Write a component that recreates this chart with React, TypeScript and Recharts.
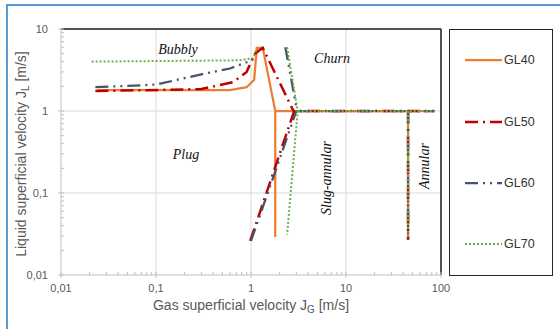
import React from "react";
import { LineChart, Line, XAxis, YAxis, ReferenceLine } from "recharts";

// ---- tick values ----
const X_MAJOR = [0.01, 0.1, 1, 10, 100];
const Y_MAJOR = [0.01, 0.1, 1, 10];
const X_LABELS = ["0,01", "0,1", "1", "10", "100"];
const Y_LABELS = ["0,01", "0,1", "1", "10"];
const MINOR_STEPS = [2, 3, 4, 5, 6, 7, 8, 9];

// ---- series values [Jg, Jl] ----
const GL40_BOUNDARY = [[0.024, 1.8], [0.6, 1.8], [0.9, 1.95], [1.08, 2.4], [1.15, 5.9], [1.33, 5.9], [1.8, 1.0], [1.8, 0.029]];
const GL40_CHURN = [[1.8, 1.0], [85, 1.0]];
const GL40_ANNULAR = [[45, 1.0], [45, 0.028]];

const GL50_BOUNDARY = [[0.023, 1.75], [0.3, 1.85], [0.65, 2.25], [0.9, 3.0], [1.1, 5.0], [1.33, 5.9], [2.8, 1.0]];
const GL50_SLUG = [[0.98, 0.026], [2.85, 1.0], [85, 1.0]];
const GL50_ANNULAR = [[45, 1.0], [45, 0.027]];

const GL60_BUBBLY = [[0.023, 1.95], [0.1, 2.1], [0.3, 2.8], [0.6, 3.3], [1.05, 4.2]];
const GL60_CHURN = [[2.3, 6.0], [3.05, 1.0], [85, 1.0]];
const GL60_SLUG = [[1.0, 0.026], [3.0, 1.0]];
const GL60_ANNULAR = [[45, 1.0], [45, 0.027]];

const GL70_BUBBLY = [[0.021, 4.0], [0.75, 4.15], [1.05, 4.4], [1.15, 5.8]];
const GL70_CHURN = [[2.4, 6.0], [3.1, 1.0], [2.4, 0.031]];
const GL70_HORIZ = [[3.1, 1.0], [85, 1.0]];
const GL70_ANNULAR = [[45, 1.0], [45, 0.028]];

const SERIES_NAMES = ["GL40", "GL50", "GL60", "GL70"];

const STYLES: Record<string, { color: string; dash?: string; width: number }> = {
  GL40: { color: "#ED7D31", width: 2.25 },
  GL50: { color: "#C00000", dash: "13 5 2 5", width: 2.5 },
  GL60: { color: "#44546A", dash: "13 5 2 5 2 5", width: 2.25 },
  GL70: { color: "#70AD47", dash: "2 2", width: 2 },
};

const SEGMENTS: Record<string, number[][][]> = {
  GL40: [GL40_BOUNDARY, GL40_CHURN, GL40_ANNULAR],
  GL50: [GL50_BOUNDARY, GL50_SLUG, GL50_ANNULAR],
  GL60: [GL60_BUBBLY, GL60_CHURN, GL60_SLUG, GL60_ANNULAR],
  GL70: [GL70_BUBBLY, GL70_CHURN, GL70_HORIZ, GL70_ANNULAR],
};

const toData = (seg: number[][]) => seg.map(([x, y]) => ({ x, y }));

const withMinors = (majors: number[]) => {
  const out: number[] = [];
  majors.forEach((m, i) => {
    out.push(m);
    if (i < majors.length - 1) MINOR_STEPS.forEach((s) => out.push(+(m * s).toPrecision(3)));
  });
  return out;
};
const X_TICKS = withMinors(X_MAJOR);
const Y_TICKS = withMinors(Y_MAJOR);

const AXIS_GRAY = "#BFBFBF";
const TEXT_GRAY = "#595959";
const SANS = "'Liberation Sans', Arial, sans-serif";
const SERIF = "'Liberation Serif', 'Times New Roman', serif";

const XTick = (props: any) => {
  const { x, y, payload } = props;
  const idx = X_MAJOR.indexOf(payload.value);
  if (idx >= 0) {
    return (
      <g>
        <line x1={x} x2={x} y1={y - 3} y2={y + 3} stroke={AXIS_GRAY} />
        <text x={x} y={y + 17} textAnchor="middle" fontSize={11} fill={TEXT_GRAY} fontFamily={SANS}>
          {X_LABELS[idx]}
        </text>
      </g>
    );
  }
  return <line x1={x} x2={x} y1={y - 3} y2={y} stroke={AXIS_GRAY} />;
};

const YTick = (props: any) => {
  const { x, y, payload } = props;
  const idx = Y_MAJOR.indexOf(payload.value);
  if (idx >= 0) {
    return (
      <g>
        <line x1={x - 3} x2={x + 3} y1={y} y2={y} stroke={AXIS_GRAY} />
        <text x={x - 13} y={y + 4} textAnchor="end" fontSize={11} fill={TEXT_GRAY} fontFamily={SANS}>
          {Y_LABELS[idx]}
        </text>
      </g>
    );
  }
  return <line x1={x} x2={x + 3} y1={y} y2={y} stroke={AXIS_GRAY} />;
};

const regionLabel = (text: string, cx: number, cy: number, rotate = false) => (
  <div
    key={text}
    style={{
      position: "absolute",
      left: cx,
      top: cy,
      transform: `translate(-50%, -50%)${rotate ? " rotate(-90deg)" : ""}`,
      fontFamily: SERIF,
      fontStyle: "italic",
      fontSize: 14,
      color: "#111",
      whiteSpace: "nowrap",
      lineHeight: "16px",
    }}
  >
    {text}
  </div>
);

export default function App() {
  return (
    <div style={{ position: "absolute", left: 0, top: 0, width: 560, height: 329, background: "#fff", overflow: "hidden" }}>
      <div
        style={{
          position: "absolute",
          left: 6,
          top: 4,
          width: 600,
          height: 400,
          borderLeft: "2px solid #5B9BD5",
          borderTop: "2px solid #5B9BD5",
        }}
      />
      <div style={{ position: "absolute", left: 0, top: 0 }}>
        <LineChart width={450} height={329} margin={{ top: 29, right: 9, bottom: 24, left: 0 }}>
          <XAxis
            type="number"
            dataKey="x"
            scale="log"
            domain={[0.01, 100]}
            ticks={X_TICKS}
            interval={0}
            allowDataOverflow
            height={30}
            tickSize={0}
            tickMargin={0}
            tickLine={false}
            axisLine={{ stroke: AXIS_GRAY }}
            tick={<XTick />}
          />
          <YAxis
            type="number"
            scale="log"
            domain={[0.01, 10]}
            ticks={Y_TICKS}
            interval={0}
            allowDataOverflow
            width={61}
            tickSize={0}
            tickMargin={0}
            tickLine={false}
            axisLine={{ stroke: AXIS_GRAY }}
            tick={<YTick />}
          />
          {[0.1, 1, 10].map((v) => (
            <ReferenceLine key={"gx" + v} x={v} stroke="#D9D9D9" strokeWidth={1} />
          ))}
          {[0.1, 1].map((v) => (
            <ReferenceLine key={"gy" + v} y={v} stroke="#D9D9D9" strokeWidth={1} />
          ))}
          <ReferenceLine y={10} stroke="#1a1a1a" strokeWidth={1.5} />
          <ReferenceLine x={100} stroke="#1a1a1a" strokeWidth={1.5} />
          {SERIES_NAMES.map((name) =>
            SEGMENTS[name].map((seg, i) => (
              <Line
                key={name + i}
                data={toData(seg)}
                dataKey="y"
                type="linear"
                stroke={STYLES[name].color}
                strokeWidth={STYLES[name].width}
                strokeDasharray={STYLES[name].dash}
                dot={false}
                activeDot={false}
                isAnimationActive={false}
              />
            ))
          )}
        </LineChart>
      </div>

      {regionLabel("Bubbly", 178, 50)}
      {regionLabel("Churn", 332, 59)}
      {regionLabel("Plug", 186, 155)}
      {regionLabel("Slug-annular", 327, 178, true)}
      {regionLabel("Annular", 425, 166, true)}

      {/* axis titles */}
      <div
        style={{
          position: "absolute",
          left: 251,
          top: 306,
          transform: "translate(-50%, -50%)",
          fontFamily: SANS,
          fontSize: 14,
          color: TEXT_GRAY,
          whiteSpace: "nowrap",
        }}
      >
        Gas superficial velocity J<span style={{ fontSize: 10, verticalAlign: "-3px" }}>G</span> [m/s]
      </div>
      <div
        style={{
          position: "absolute",
          left: 22,
          top: 154,
          transform: "translate(-50%, -50%) rotate(-90deg)",
          fontFamily: SANS,
          fontSize: 14,
          color: TEXT_GRAY,
          whiteSpace: "nowrap",
        }}
      >
        Liquid superficial velocity J<span style={{ fontSize: 10, verticalAlign: "-3px" }}>L</span> [m/s]
      </div>

      {/* legend */}
      <div
        style={{
          position: "absolute",
          left: 449,
          top: 29,
          width: 102,
          height: 245,
          border: "1.5px solid #262626",
          background: "#fff",
        }}
      />
      {SERIES_NAMES.map((name, i) => {
        const cy = [60, 122, 183, 244][i];
        const st = STYLES[name];
        return (
          <div key={"lg" + name} style={{ position: "absolute", left: 464, top: cy - 8, height: 16, display: "flex", alignItems: "center" }}>
            <svg width={39} height={16}>
              <line x1={1} x2={38} y1={8} y2={8} stroke={st.color} strokeWidth={st.width} strokeDasharray={st.dash} />
            </svg>
            <span style={{ fontFamily: SANS, fontSize: 12.5, color: "#333", marginLeft: 1 }}>{name}</span>
          </div>
        );
      })}
    </div>
  );
}
